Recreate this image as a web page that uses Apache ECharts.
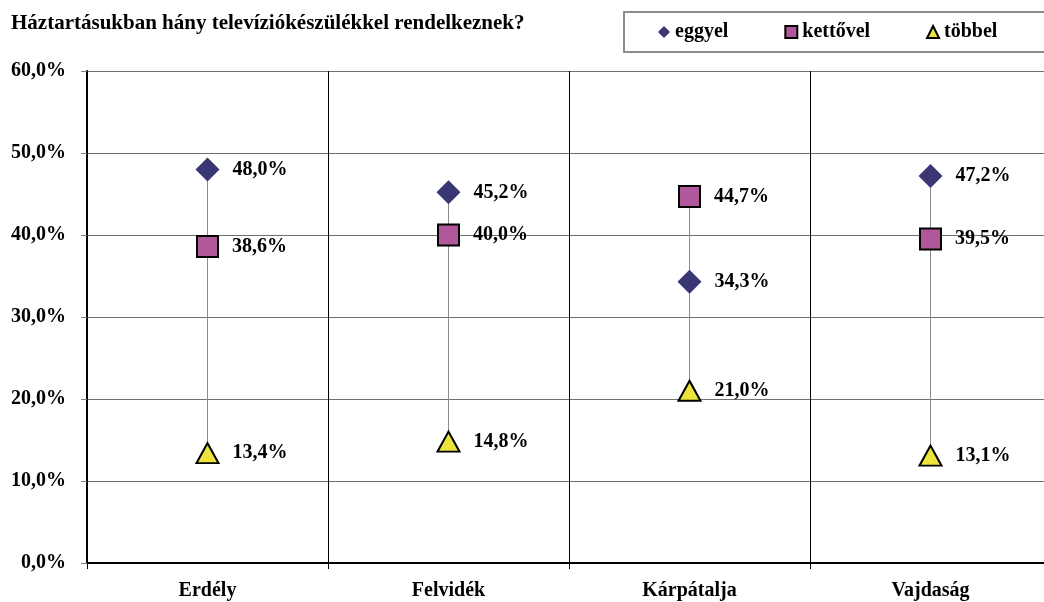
<!DOCTYPE html>
<html>
<head>
<meta charset="utf-8">
<script src="https://cdn.jsdelivr.net/npm/echarts@6/dist/echarts.min.js"></script>
<style>
  html, body { margin: 0; padding: 0; background: #fff; overflow: hidden; }
  /* plot area runs a few pixels past the right edge of the window, as in the original */
  #chart { width: 1051px; height: 602px; }
</style>
</head>
<body>
<div id="chart"></div>
<script>
const regions = ["Erdély", "Felvidék", "Kárpátalja", "Vajdaság"];
const eggyel = [48.0, 45.2, 34.3, 47.2];
const kettovel = [38.6, 40.0, 44.7, 39.5];
const tobbel = [13.4, 14.8, 21.0, 13.1];

const font = "'Liberation Serif', 'DejaVu Serif', serif";
const pct = v => v.toFixed(1).replace(".", ",") + "%";

// min-max range per region, for the thin drop line
const ranges = regions.map((r, i) => {
    const vals = [eggyel[i], kettovel[i], tobbel[i]];
    return [i, Math.min(...vals), Math.max(...vals)];
});

const chart = echarts.init(document.getElementById("chart"), null, { renderer: "canvas" });

const labelStyle = {
    show: true,
    position: "right",
    distance: 13,
    formatter: p => pct(p.value),
    fontFamily: font,
    fontWeight: "bold",
    fontSize: 20,
    color: "#000"
};

function pointSeries(name, data, symbol, size, color, border) {
    return {
        type: "scatter",
        name: name,
        data: data,
        symbol: symbol,
        symbolSize: size,
        itemStyle: { color: color, borderColor: "#000", borderWidth: border, opacity: 1 },
        label: labelStyle,
        z: 5
    };
}

chart.setOption({
    animation: false,
    title: {
        text: "Háztartásukban hány televíziókészülékkel rendelkeznek?",
        left: 6,
        top: 8,
        textStyle: { fontFamily: font, fontWeight: "bold", fontSize: 21, color: "#000" }
    },
    legend: {
        data: ["eggyel", "kettővel", "többel"],
        left: 624,
        top: 12,
        padding: [10, 48, 10, 34],
        itemGap: 56,
        itemWidth: 12,
        itemHeight: 12,
        borderColor: "#8c8c8c",
        borderWidth: 2,
        textStyle: { fontFamily: font, fontWeight: "bold", fontSize: 20, color: "#000" }
    },
    grid: { left: 87, right: 0, top: 71, bottom: 39 },
    xAxis: {
        type: "category",
        data: regions,
        boundaryGap: true,
        axisLine: { lineStyle: { color: "#000", width: 2 } },
        axisTick: { show: true, length: 6, lineStyle: { color: "#000" } },
        axisLabel: { fontFamily: font, fontWeight: "bold", fontSize: 20, color: "#000", margin: 18 },
        splitLine: { show: true, lineStyle: { color: "#000", width: 1 } }
    },
    yAxis: {
        type: "value",
        min: 0,
        max: 60,
        interval: 10,
        axisLine: { show: true, lineStyle: { color: "#000", width: 2 } },
        axisTick: { show: true, length: 6, lineStyle: { color: "#808080" } },
        axisLabel: { formatter: pct, fontFamily: font, fontWeight: "bold", fontSize: 20, color: "#000", margin: 21 },
        splitLine: { lineStyle: { color: "#707070", width: 1 } }
    },
    series: [
        {
            type: "custom",
            data: ranges,
            z: 2,
            silent: true,
            renderItem: (params, api) => {
                const lo = api.coord([api.value(0), api.value(1)]);
                const hi = api.coord([api.value(0), api.value(2)]);
                return {
                    type: "line",
                    shape: { x1: lo[0], y1: lo[1], x2: hi[0], y2: hi[1] },
                    style: { stroke: "#8a8a8a", lineWidth: 1 }
                };
            }
        },
        pointSeries("eggyel", eggyel, "diamond", 24, "#3a3674", 0),
        pointSeries("kettővel", kettovel, "rect", 21, "#b0589b", 2),
        pointSeries("többel", tobbel, "triangle", [22, 20], "#ece33c", 2)
    ]
});
</script>
</body>
</html>
